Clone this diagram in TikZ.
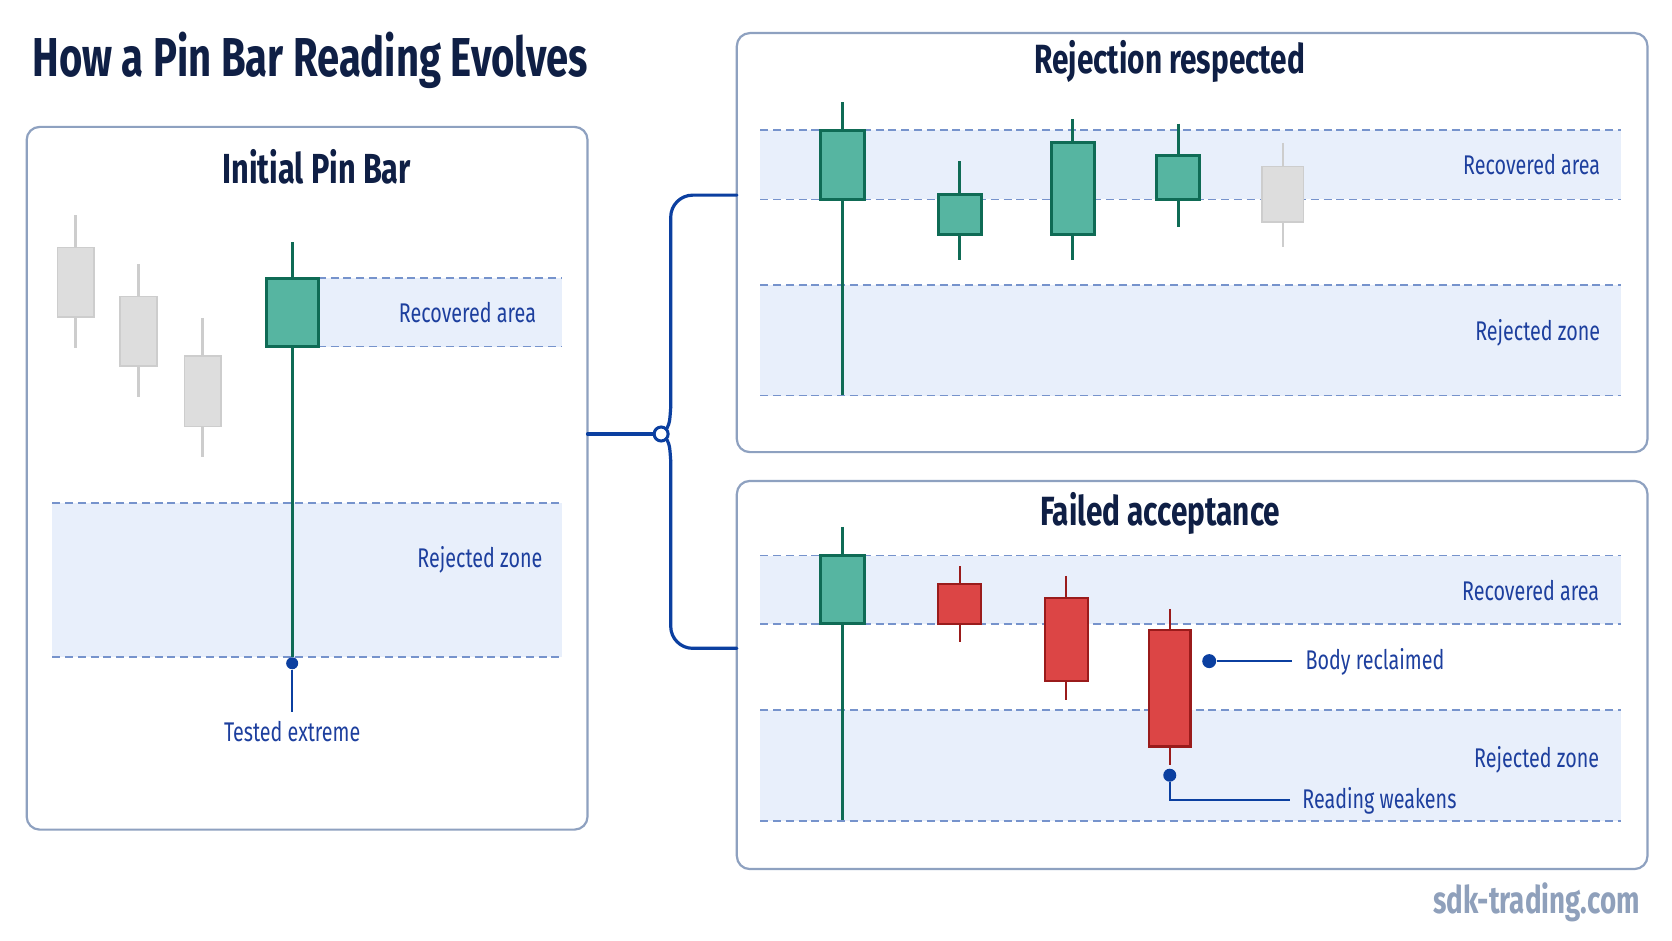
\documentclass[tikz,border=0pt]{standalone}
\usepackage{fontspec}
\setmainfont{Fira Sans}[FakeStretch=0.73]
\definecolor{navy}{HTML}{0F1F45}
\definecolor{lblc}{HTML}{1D3F9E}
\definecolor{bandc}{HTML}{E8EFFB}
\definecolor{dashc}{HTML}{7693CC}
\definecolor{panelc}{HTML}{8EA1C0}
\definecolor{gfill}{HTML}{56B5A1}
\definecolor{gdark}{HTML}{0F6B55}
\definecolor{grayfill}{HTML}{DDDDDD}
\definecolor{grayline}{HTML}{CDCDCD}
\definecolor{rfill}{HTML}{DC4545}
\definecolor{rdark}{HTML}{9A1B1B}
\definecolor{connc}{HTML}{0B3FA0}
\definecolor{wmc}{HTML}{8FA0BB}
\newcommand\cndl[7]{%
  \draw[#7wick] (#1,#3) -- (#1,#6);
  \draw[#7body] ({#1-#2},#4) rectangle ({#1+#2},#5);}
\begin{document}
\begin{tikzpicture}[x=0.53316pt,y=-0.53316pt,
  panel/.style={draw=panelc, line width=1.1pt, rounded corners=6.5pt, fill=white},
  band/.style={fill=bandc, draw=none},
  dline/.style={draw=dashc, line width=0.85pt, dash pattern=on 4pt off 2.4pt},
  gbody/.style={fill=gfill, draw=gdark, line width=1.5pt},
  gwick/.style={draw=gdark, line width=1.4pt},
  sbody/.style={fill=grayfill, draw=grayline, line width=0.8pt},
  swick/.style={draw=grayline, line width=1.3pt},
  rbody/.style={fill=rfill, draw=rdark, line width=1.1pt},
  rwick/.style={draw=rdark, line width=1.1pt},
  conn/.style={draw=connc, line width=1.6pt, line cap=round},
  ann/.style={draw=connc, line width=1.1pt},
  adot/.style={circle, fill=connc, inner sep=0pt, minimum size=6pt},
  ttl/.style={font=\bfseries\fontsize{20.4}{24}\selectfont, text=navy, inner sep=0pt, anchor=base},
  lbl/.style={font=\fontsize{13.5}{16}\selectfont, text=lblc, inner sep=0pt}]
\useasboundingbox (0,0) rectangle (1568,882);
\fill[white] (0,0) rectangle (1568,882);

% main title
\node[font=\bfseries\fontsize{27.4}{30}\selectfont, text=navy, inner sep=0pt, anchor=base west] (title) at (30,72) {How a Pin Bar Reading Evolves};

% panels
\draw[panel] (25,119) rectangle (551,778);
\draw[panel] (691,31) rectangle (1545,424);
\draw[panel] (691,451) rectangle (1545,815);

% ---------- left panel ----------
\fill[band] (298,261) rectangle (527,325);
\fill[band] (49,472) rectangle (527,616);
\draw[dline] (298,261) -- (527,261);
\draw[dline] (298,325) -- (527,325);
\draw[dline] (49,472) -- (527,472);
\draw[dline] (49,616) -- (527,616);
\node[ttl, font=\bfseries\fontsize{21}{24}\selectfont] (t1) at (297,172) {Initial Pin Bar};
\node[lbl, anchor=base east] (l1a) at (503,302) {Recovered area};
\node[lbl, anchor=base east] (l1b) at (509,532) {Rejected zone};
\cndl{71}{17}{202}{232}{297}{326}{s}
\cndl{130}{17.5}{248}{278}{343}{372}{s}
\cndl{190}{17}{298}{334}{400}{429}{s}
\cndl{274}{24.5}{227}{261}{325}{616}{g}
\node[adot, minimum size=6pt] (td) at (274,622) {};
\node[lbl, anchor=base] (tested) at (274,695) {Tested extreme};
\coordinate (tend) at (274,668);
\draw[ann] (td) -- (tend);

% ---------- top right panel ----------
\fill[band] (713,122) rectangle (1520,187);
\fill[band] (713,267) rectangle (1520,371);
\foreach \yy in {122,187,267,371} \draw[dline] (713,\yy) -- (1520,\yy);
\node[ttl] (t2) at (1097,69) {Rejection respected};
\node[lbl, anchor=base east] (l2a) at (1501,164) {Recovered area};
\node[lbl, anchor=base east] (l2b) at (1501,319) {Rejected zone};
\cndl{790}{21}{96}{122}{187}{370}{g}
\cndl{900}{20}{151}{182}{220}{244}{g}
\cndl{1006}{20}{112}{134}{220}{244}{g}
\cndl{1105}{20}{116}{146}{187}{213}{g}
\cndl{1203}{19.5}{134}{156}{208}{232}{s}

% ---------- bottom right panel ----------
\fill[band] (713,521) rectangle (1520,585);
\fill[band] (713,666) rectangle (1520,770);
\foreach \yy in {521,585,666,770} \draw[dline] (713,\yy) -- (1520,\yy);
\node[ttl] (t3) at (1088,493) {Failed acceptance};
\node[lbl, anchor=base east] (l3a) at (1500,563) {Recovered area};
\node[lbl, anchor=base east] (l3b) at (1500,720) {Rejected zone};
\cndl{790}{21}{494}{521}{585}{769}{g}
\cndl{900}{20}{531}{548}{585}{602}{r}
\cndl{1000}{20}{540}{561}{639}{656}{r}
\cndl{1097}{19.5}{571}{591}{700}{717}{r}
\node[adot, minimum size=7pt] (bd) at (1134,620) {};
\node[lbl, anchor=base west] (body) at (1224,628) {Body reclaimed};
\coordinate (bend) at (1212,620);
\draw[ann] (bd) -- (bend);
\node[adot, minimum size=6.5pt] (rd) at (1097,727) {};
\node[lbl, anchor=base west] (read) at (1221,758) {Reading weakens};
\coordinate (rc) at (1097,750);
\coordinate (rend) at (1210,750);
\draw[ann] (rd) -- (rc) -- (rend);

% ---------- connector ----------
\coordinate (P1e) at (551,407);
\coordinate (P2w) at (691,183);
\coordinate (P3w) at (691,608);
\node[circle, draw=connc, fill=white, line width=1.5pt, inner sep=0pt, minimum size=7pt] (hub) at (620,407) {};
\draw[conn] (P1e) -- (hub.west);
\draw[conn] (hub.north east) .. controls (628,396) .. (629,382);
\draw[conn, rounded corners=11pt] (629,382) -- (629,183) -- (P2w);
\draw[conn] (hub.south east) .. controls (628,418) .. (629,432);
\draw[conn, rounded corners=11pt] (629,432) -- (629,608) -- (P3w);

% watermark
\node[font=\bfseries\fontsize{19}{22}\selectfont, text=wmc, inner sep=0pt, anchor=base east] (wm) at (1538,857) {sdk-trading.com};
\end{tikzpicture}
\end{document}
